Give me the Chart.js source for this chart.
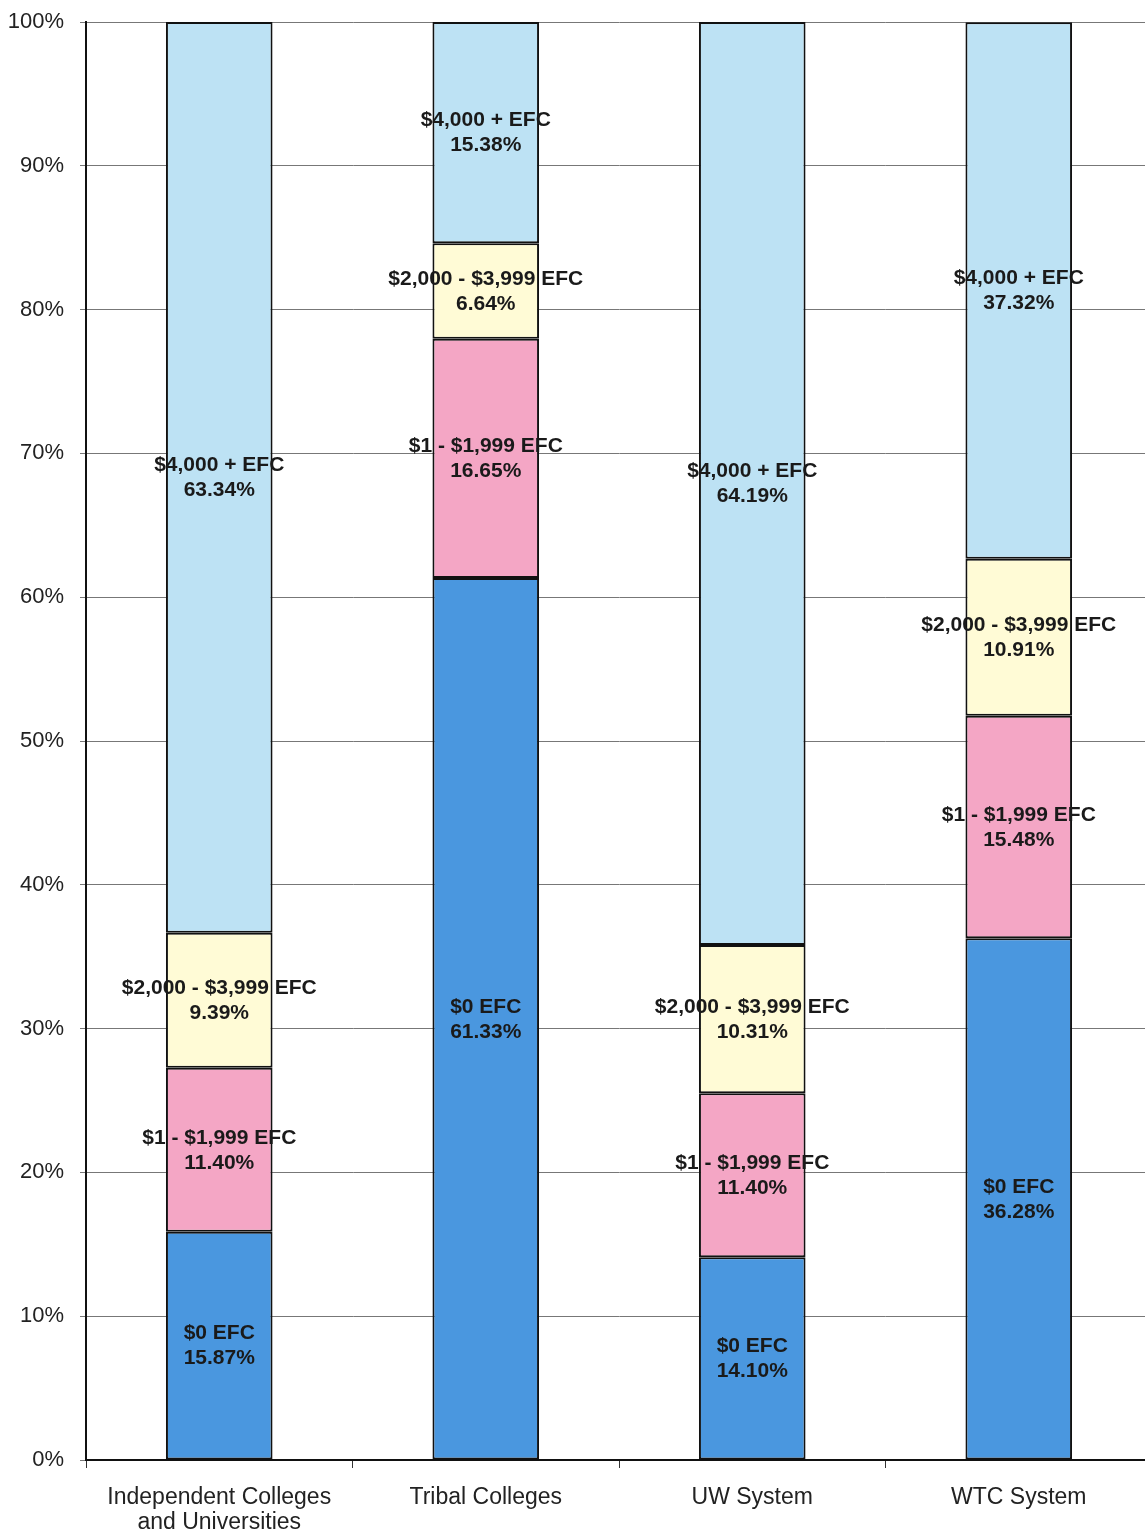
<!DOCTYPE html>
<html>
<head>
<meta charset="utf-8">
<script src="https://cdn.jsdelivr.net/npm/chart.js@4/dist/chart.umd.min.js"></script>
<style>
  html, body { margin: 0; padding: 0; background: #fff; overflow: hidden; }
  #wrap { width: 1156px; height: 1533px; }
</style>
</head>
<body>
<div id="wrap"><canvas id="efcChart" width="1156" height="1533"></canvas></div>
<script>
// categories along the x axis
const categories = [
  ['Independent Colleges', 'and Universities'],
  'Tribal Colleges',
  'UW System',
  'WTC System'
];

// series names (bottom to top)
const seriesNames = ['$0 EFC', '$1 - $1,999 EFC', '$2,000 - $3,999 EFC', '$4,000 + EFC'];

// percentage values per series
const zeroEfc     = [15.87, 61.33, 14.10, 36.28];
const lowEfc      = [11.40, 16.65, 11.40, 15.48];
const midEfc      = [9.39, 6.64, 10.31, 10.91];
const highEfc     = [63.34, 15.38, 64.19, 37.32];

const yTicks = [0, 10, 20, 30, 40, 50, 60, 70, 80, 90, 100];

const seriesColors = ['#4a97df', '#f4a6c5', '#fffbd6', '#bde2f4'];
const seriesValues = [zeroEfc, lowEfc, midEfc, highEfc];

// draw the two-line label in the middle of each segment
const segmentLabels = {
  id: 'segmentLabels',
  afterDatasetsDraw(chart) {
    const ctx = chart.ctx;
    ctx.save();
    ctx.font = 'bold 21px "Liberation Sans", Arial, sans-serif';
    ctx.fillStyle = '#1a1a1a';
    ctx.textAlign = 'center';
    ctx.textBaseline = 'middle';
    chart.data.datasets.forEach((ds, i) => {
      const meta = chart.getDatasetMeta(i);
      meta.data.forEach((bar, j) => {
        const mid = (bar.y + bar.base) / 2;
        ctx.fillText(ds.label, bar.x, mid - 12);
        ctx.fillText(ds.data[j].toFixed(2) + '%', bar.x, mid + 13);
      });
    });
    ctx.restore();
  }
};

new Chart(document.getElementById('efcChart'), {
  type: 'bar',
  data: {
    labels: categories,
    datasets: seriesNames.map((name, i) => ({
      label: name,
      data: seriesValues[i],
      backgroundColor: seriesColors[i],
      borderColor: '#111',
      borderWidth: 2,
      borderSkipped: false,
      barPercentage: 0.4,
      categoryPercentage: 1.0
    }))
  },
  options: {
    responsive: false,
    animation: false,
    layout: { padding: { top: 22, right: 4, left: 0, bottom: 0 } },
    plugins: {
      legend: { display: false },
      tooltip: { enabled: false }
    },
    scales: {
      x: {
        stacked: true,
        offset: true,
        grid: { display: true, drawOnChartArea: false, offset: true, tickLength: 8, color: '#333', lineWidth: 1 },
        border: { color: '#111', width: 2 },
        ticks: {
          color: '#222',
          padding: 17,
          font: { family: '"Liberation Sans", Arial, sans-serif', size: 23, lineHeight: 1.1 },
          maxRotation: 0,
          autoSkip: false
        },
        afterFit(scale) { scale.height = 73; }
      },
      y: {
        stacked: true,
        min: 0,
        max: 100,
        afterBuildTicks(scale) { scale.ticks = yTicks.map(v => ({ value: v })); },
        grid: { color: '#777', lineWidth: 1, tickLength: 6 },
        border: { color: '#111', width: 2 },
        ticks: {
          color: '#222',
          padding: 16,
          font: { family: '"Liberation Sans", Arial, sans-serif', size: 22 },
          callback: v => v + '%'
        },
        afterFit(scale) {
          scale.width = 86;
          scale.paddingTop = 0;
          scale.paddingBottom = 0;
        }
      }
    }
  },
  plugins: [segmentLabels]
});
</script>
</body>
</html>
